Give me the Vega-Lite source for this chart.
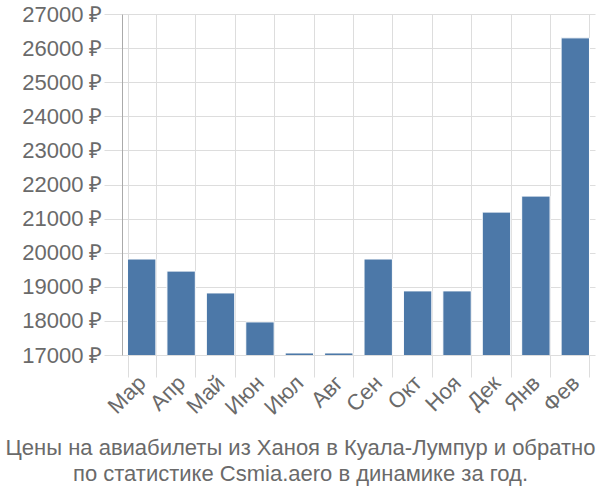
{
  "$schema": "https://vega.github.io/schema/vega-lite/v6.json",
  "autosize": "none",
  "width": 473,
  "height": 341,
  "padding": {"left": 122, "top": 14, "right": 5, "bottom": 145},
  "background": "white",
  "data": {"values": [
    {"month": "Мар", "price": 19815},
    {"month": "Апр", "price": 19460},
    {"month": "Май", "price": 18820},
    {"month": "Июн", "price": 17970},
    {"month": "Июл", "price": 17060},
    {"month": "Авг", "price": 17060},
    {"month": "Сен", "price": 19815},
    {"month": "Окт", "price": 18880},
    {"month": "Ноя", "price": 18880},
    {"month": "Дек", "price": 21190},
    {"month": "Янв", "price": 21660},
    {"month": "Фев", "price": 26300}
  ]},
  "title": {
    "text": ["Цены на авиабилеты из Ханоя в Куала-Лумпур и обратно", "по статистике Csmia.aero в динамике за год."],
    "orient": "bottom",
    "anchor": "middle",
    "font": "Liberation Sans",
    "fontSize": 22,
    "fontWeight": "normal",
    "color": "#6a6a6a",
    "lineHeight": 26,
    "offset": 20,
    "dx": -58
  },
  "mark": {"type": "bar", "color": "#4c78a8", "stroke": "#ffffff", "strokeWidth": 1, "clip": true},
  "encoding": {
    "x": {
      "field": "month", "type": "nominal", "sort": null,
      "scale": {"paddingInner": 0.28, "paddingOuter": 0.14},
      "axis": {
        "title": null, "labelAngle": -45, "labelAlign": "right", "labelBaseline": "middle",
        "labelFontSize": 22, "labelColor": "#6a6a6a", "labelFont": "Liberation Sans",
        "grid": true, "gridColor": "#dddddd", "bandPosition": 0, "tickBand": "extent",
        "tickColor": "#dddddd", "tickSize": 22, "domain": false, "labelPadding": 2, "labelOffset": 0
      }
    },
    "y": {
      "field": "price", "type": "quantitative",
      "scale": {"domain": [17000, 27000], "zero": false, "nice": false},
      "axis": {
        "title": null, "values": [17000,18000,19000,20000,21000,22000,23000,24000,25000,26000,27000],
        "labelExpr": "datum.value + ' ₽'", "labelFontSize": 22, "labelColor": "#6a6a6a", "labelFont": "Liberation Sans",
        "gridColor": "#dddddd", "tickColor": "#dddddd", "tickSize": 18, "domainColor": "#aaaaaa", "labelPadding": 2
      }
    }
  },
  "config": {"view": {"stroke": null}}
}
